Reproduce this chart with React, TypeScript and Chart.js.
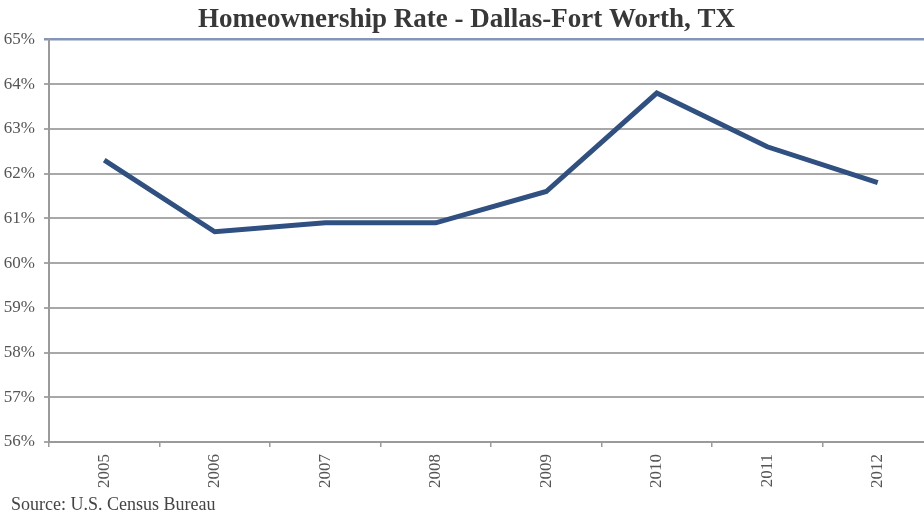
import React, { useEffect, useRef } from "react";
import { Chart, registerables } from "chart.js";

Chart.register(...registerables);

const years = ["2005", "2006", "2007", "2008", "2009", "2010", "2011", "2012"];
const rates = [62.3, 60.7, 60.9, 60.9, 61.6, 63.8, 62.6, 61.8];
const yMin = 56;
const yMax = 65;
const titleText = "Homeownership Rate - Dallas-Fort Worth, TX";
const sourceText = "Source: U.S. Census Bureau";

const serif = "'Liberation Serif', 'Times New Roman', serif";

export default function App() {
  const ref = useRef<HTMLCanvasElement>(null);
  useEffect(() => {
    if (!ref.current) return;
    const chart = new Chart(ref.current, {
      type: "line",
      data: {
        labels: years,
        datasets: [
          {
            data: rates,
            borderColor: "#2f5081",
            borderWidth: 5,
            pointRadius: 0,
            tension: 0,
            fill: false,
          },
        ],
      },
      options: {
        animation: false,
        responsive: false,
        layout: { padding: { left: 0, right: 12, top: 0, bottom: 24 } },
        plugins: {
          legend: { display: false },
          tooltip: { enabled: false },
          title: {
            display: true,
            text: titleText,
            color: "#383838",
            font: { family: serif, size: 27, weight: "bold" },
            padding: { top: 4, bottom: 3 },
          },
        },
        scales: {
          x: {
            offset: true,
            grid: {
              offset: true,
              drawOnChartArea: false,
              drawTicks: true,
              tickLength: 5,
              color: "#9a9a9a",
              lineWidth: 1.5,
            },
            border: { color: "#9a9a9a", width: 2 },
            ticks: {
              minRotation: 90,
              maxRotation: 90,
              color: "#555555",
              font: { family: serif, size: 17 },
              padding: 7,
            },
            afterFit: (s: any) => {
              s.height = 52;
            },
          },
          y: {
            min: yMin,
            max: yMax,
            ticks: {
              stepSize: 1,
              color: "#555555",
              font: { family: serif, size: 17 },
              padding: 9,
              callback: (v: any) => v + "%",
            },
            grid: {
              color: (c: any) => (c.tick && c.tick.value === yMax ? "#8196b8" : "#a8a8a8"),
              lineWidth: (c: any) => (c.tick && c.tick.value === yMax ? 2.5 : 2),
              tickLength: 5,
            },
            border: { color: "#9a9a9a", width: 2 },
            afterFit: (s: any) => {
              s.width = 49;
            },
          },
        },
      },
    });
    return () => chart.destroy();
  }, []);
  return (
    <div
      style={{
        position: "fixed",
        left: 0,
        top: 0,
        width: 924,
        height: 518,
        overflow: "hidden",
        background: "#ffffff",
      }}
    >
      <canvas ref={ref} width={945} height={518} style={{ display: "block" }} />
      <div
        style={{
          position: "absolute",
          left: 11,
          top: 494,
          fontFamily: serif,
          fontSize: 18,
          lineHeight: "21.6px",
          color: "#444444",
          whiteSpace: "nowrap",
        }}
      >
        {sourceText}
      </div>
    </div>
  );
}
